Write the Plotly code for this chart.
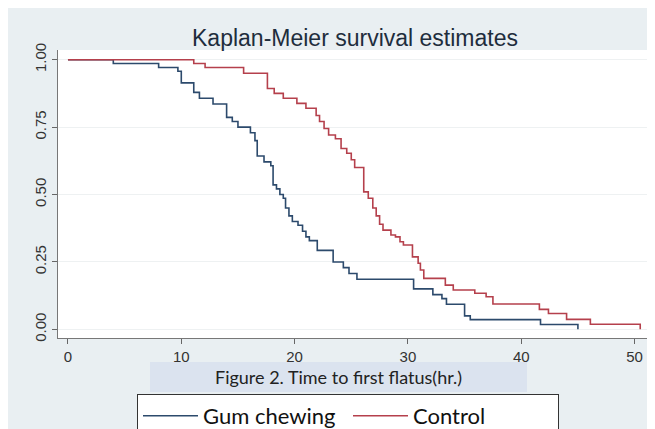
import plotly.graph_objects as go

# ---- data ----
gum_times = [0, 4.0, 8.0, 9.7, 10.0, 11.1, 11.6, 12.8, 14.0, 14.5, 15.0, 16.1, 16.5, 16.7,
             17.3, 17.9, 18.1, 18.4, 18.7, 19.0, 19.2, 19.5, 19.8, 20.3, 20.7, 21.0, 21.3,
             22.0, 23.4, 24.3, 24.8, 25.5, 30.5, 32.2, 33.0, 33.4, 35.0, 35.5, 41.7, 45.0]
gum_surv = [1.0, 0.986, 0.971, 0.957, 0.914, 0.879, 0.857, 0.836, 0.786, 0.771, 0.750, 0.729,
            0.700, 0.643, 0.621, 0.607, 0.536, 0.521, 0.500, 0.486, 0.450, 0.421, 0.400,
            0.386, 0.364, 0.343, 0.329, 0.293, 0.250, 0.229, 0.207, 0.186, 0.150, 0.129,
            0.114, 0.093, 0.050, 0.036, 0.018, 0.0]

ctrl_times = [0, 11.1, 12.1, 15.5, 17.6, 18.2, 19.0, 20.2, 21.0, 21.9, 22.2, 22.6, 23.0, 23.6,
              24.1, 24.6, 25.0, 25.3, 26.1, 26.5, 26.9, 27.2, 27.5, 27.8, 28.5, 28.9, 29.3,
              29.6, 30.4, 30.9, 31.1, 31.4, 33.3, 34.0, 35.9, 36.9, 37.5, 41.6, 42.4, 44.0,
              46.1, 50.5]
ctrl_surv = [1.0, 0.986, 0.971, 0.950, 0.893, 0.875, 0.857, 0.838, 0.820, 0.793, 0.771, 0.745,
             0.721, 0.707, 0.671, 0.653, 0.629, 0.600, 0.510, 0.486, 0.450, 0.421, 0.390,
             0.368, 0.350, 0.343, 0.325, 0.313, 0.269, 0.245, 0.220, 0.189, 0.164, 0.146,
             0.134, 0.121, 0.094, 0.074, 0.059, 0.037, 0.019, 0.0]

x_ticks = [0, 10, 20, 30, 40, 50]
y_ticks = [0.0, 0.25, 0.5, 0.75, 1.0]
y_tick_labels = ["0.00", "0.25", "0.50", "0.75", "1.00"]

title_text = "Kaplan-Meier survival estimates"
caption_text = "Figure 2. Time to first flatus(hr.)"
series_names = ["Gum chewing", "Control"]

# ---- layout geometry (figure pixels; the page adds an 8px body margin) ----
W, H = 647, 421
L, R, T, B = 50, 4, 42, 91
pw, ph = W - L - R, H - T - B


def px_x(p):
    return (p - L) / pw


def px_y(p):
    return (H - B - p) / ph


fig = go.Figure()
fig.add_trace(go.Scatter(x=gum_times, y=gum_surv, mode="lines", line_shape="hv",
                         line=dict(color="#2c4a6c", width=1.6), name=series_names[0]))
fig.add_trace(go.Scatter(x=ctrl_times, y=ctrl_surv, mode="lines", line_shape="hv",
                         line=dict(color="#b5404c", width=1.6), name=series_names[1]))

shapes = [
    # caption box
    dict(type="rect", xref="paper", yref="paper", x0=px_x(142), x1=px_x(519),
         y0=px_y(384), y1=px_y(354), fillcolor="#dbe3ef", line_width=0, layer="below"),
]

fig.update_layout(
    width=W, height=H,
    margin=dict(l=L, r=R, t=T, b=B, pad=0),
    paper_bgcolor="#e9eff2",
    plot_bgcolor="white",
    shapes=shapes,
    title=dict(text=title_text, x=px_x(347), xref="paper", xanchor="center",
               y=1 - 30 / H, yanchor="middle",
               font=dict(family="Liberation Sans", size=23, color="#1e2d3d")),
    xaxis=dict(range=[-0.88, 51.45], tickvals=x_ticks, ticks="outside", ticklen=5,
               tickcolor="#666", showline=True, linecolor="#777", linewidth=1,
               showgrid=False, zeroline=False,
               tickfont=dict(family="Liberation Sans", size=15, color="#333")),
    yaxis=dict(range=[-0.032, 1.036], tickvals=y_ticks, ticktext=y_tick_labels,
               tickangle=-90, ticks="outside", ticklen=5, tickcolor="#666",
               showline=True, linecolor="#777", linewidth=1,
               showgrid=True, gridcolor="#eef1f2", gridwidth=1, zeroline=False,
               tickfont=dict(family="Liberation Sans", size=15, color="#333")),
    annotations=[dict(text=caption_text, xref="paper", yref="paper",
                      x=px_x(330), y=px_y(369), xanchor="center", yanchor="middle",
                      showarrow=False,
                      font=dict(family="Lato", size=18, color="#222"))],
    legend=dict(orientation="h", x=px_x(129), xanchor="left",
                yref="container", y=1 - 386 / H, yanchor="top",
                bgcolor="white", bordercolor="#333", borderwidth=1,
                font=dict(family="Lato", size=22, color="#111"),
                itemwidth=55, entrywidth=140, entrywidthmode="pixels"),
    showlegend=True,
)

fig.write_html("out.html")
